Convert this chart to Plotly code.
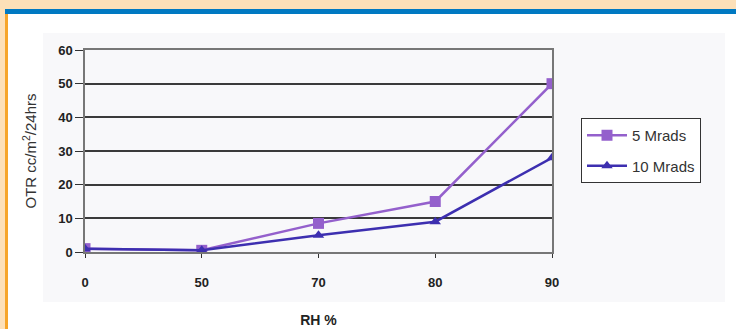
import plotly.graph_objects as go

# RH levels (categorical) and oxygen transmission rates
rh_levels = ["0", "50", "70", "80", "90"]
otr_5_mrads = [1, 0.5, 8.5, 15, 50]
otr_10_mrads = [1, 0.5, 5, 9, 28]
y_ticks = [0, 10, 20, 30, 40, 50, 60]

fig = go.Figure()
fig.add_trace(go.Scatter(
    x=rh_levels, y=otr_5_mrads, name="5 Mrads", legendgroup="a",
    mode="lines+markers",
    line=dict(color="#9460CC", width=2.5),
    marker=dict(symbol="square", size=11, color="#9460CC"),
))
fig.add_trace(go.Scatter(
    x=rh_levels, y=otr_10_mrads, name="10 Mrads", legendgroup="b",
    mode="lines+markers",
    line=dict(color="#3D2FB0", width=2.5),
    marker=dict(symbol="triangle-up", size=10, color="#3D2FB0"),
))

W, H = 736, 329
L, R, T, B = 85, 184, 50, 77
PW, PH = W - L - R, H - T - B

shapes = [
    # light chart-area panel
    dict(type="rect", xref="paper", yref="paper", layer="below",
         x0=-(L - 43) / PW, x1=(725 - L) / PW,
         y0=-(302 - (H - B)) / PH, y1=1 + (T - 33) / PH,
         fillcolor="#F8F8FA", line=dict(width=0)),
    # page frame: peach top band, blue stripe, orange left border
    dict(type="rect", xref="paper", yref="paper", layer="above",
         x0=-L / PW, x1=(W - L) / PW, y0=1 + (T - 9) / PH, y1=1 + T / PH,
         fillcolor="#FDE0B8", line=dict(width=0)),
    dict(type="rect", xref="paper", yref="paper", layer="above",
         x0=-(L - 5) / PW, x1=(W - L) / PW,
         y0=1 + (T - 14) / PH, y1=1 + (T - 9) / PH,
         fillcolor="#0079C2", line=dict(width=0)),
    dict(type="rect", xref="paper", yref="paper", layer="above",
         x0=-L / PW, x1=-(L - 5) / PW, y0=-B / PH, y1=1 + (T - 9) / PH,
         fillcolor="#FDE0B8", line=dict(width=0)),
    dict(type="rect", xref="paper", yref="paper", layer="above",
         x0=-(L - 5) / PW, x1=-(L - 8) / PW, y0=-B / PH, y1=1 + (T - 14) / PH,
         fillcolor="#F7A52A", line=dict(width=0)),
]

fig.update_layout(
    width=W, height=H,
    margin=dict(l=L, r=R, t=T, b=B, autoexpand=False),
    paper_bgcolor="white",
    plot_bgcolor="#C9CDCD",
    font=dict(family="Liberation Sans, Arial, sans-serif", color="#222"),
    showlegend=True,
    legend=dict(
        x=(581 - L) / PW, y=(H - B - 118) / PH,
        xanchor="left", yanchor="top",
        bgcolor="white", bordercolor="#333", borderwidth=1,
        font=dict(size=15, color="#333"),
        itemwidth=40, tracegroupgap=8,
    ),
    shapes=shapes,
)

fig.update_xaxes(
    type="category", range=[0, 4], automargin=False,
    showgrid=False, zeroline=False,
    ticks="outside", ticklen=4, tickcolor="#333",
    ticklabelstandoff=14,
    showline=True, linecolor="#777", linewidth=1.5, mirror=True,
    tickfont=dict(size=13, color="#222", family="Liberation Sans, Arial", weight="bold"),
    title=dict(text="<b>RH %</b>", font=dict(size=14, color="#222"), standoff=26),
)
fig.update_yaxes(
    range=[0, 60], tickvals=y_ticks, automargin=False,
    showgrid=True, gridcolor="#3A3A3A", gridwidth=1.5,
    zeroline=False,
    ticks="outside", ticklen=8, tickcolor="#333",
    showline=True, linecolor="#777", linewidth=1.5, mirror=True,
    tickfont=dict(size=13, color="#222", family="Liberation Sans, Arial", weight="bold"),
    title=dict(text="OTR cc/m<sup>2</sup>/24hrs", font=dict(size=15, color="#333"), standoff=18),
)

fig.write_html("out.html")
